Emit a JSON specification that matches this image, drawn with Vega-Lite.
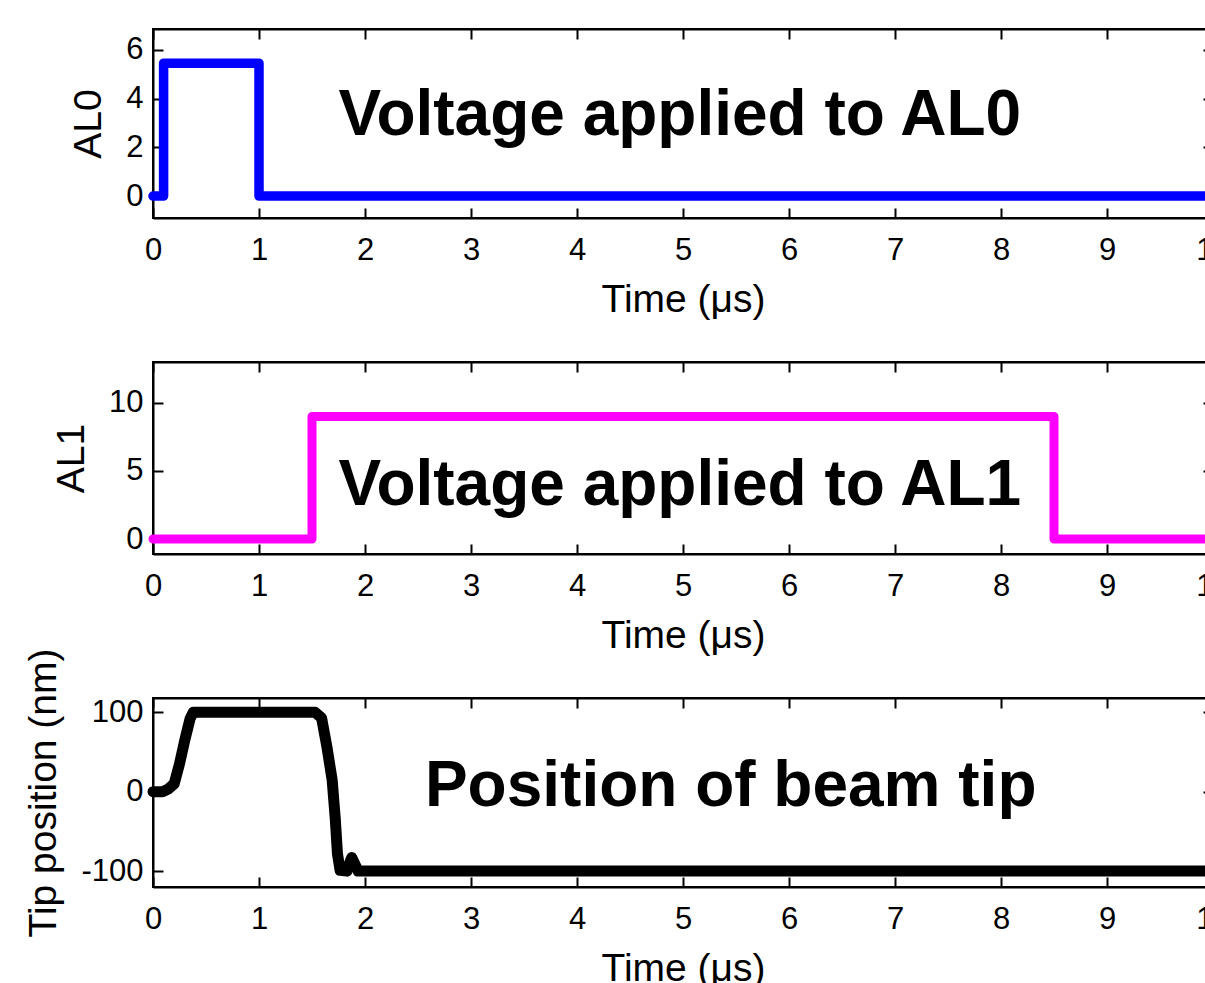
{
  "$schema": "https://vega.github.io/schema/vega-lite/v6.json",
  "padding": {"left": 23, "top": 27, "right": 0, "bottom": 0},
  "spacing": 144,
  "bounds": "flush",
  "config": {
    "font": "Liberation Sans",
    "view": {"stroke": "#000000", "strokeWidth": 2},
    "axis": {
      "grid": false,
      "domainColor": "#000000",
      "domainWidth": 2,
      "tickColor": "#000000",
      "tickWidth": 2,
      "tickSize": -10,
      "labelFontSize": 31,
      "labelColor": "#000000",
      "labelFlush": false,
      "labelOverlap": false,
      "labelExpr": "datum.value < 0 ? '-' + abs(datum.value) : '' + datum.value",
      "titleFontSize": 39,
      "titleFontWeight": "normal",
      "titleColor": "#000000"
    },
    "axisX": {"labelPadding": 27, "titlePadding": 15},
    "axisY": {"labelPadding": 20, "titlePadding": 17}
  },
  "datasets": {
    "al0": [
      {"t": 0, "v": 0}, {"t": 0.1, "v": 0}, {"t": 0.1, "v": 5.45},
      {"t": 1.0, "v": 5.45}, {"t": 1.0, "v": 0}, {"t": 10, "v": 0}
    ],
    "al1": [
      {"t": 0, "v": 0}, {"t": 1.5, "v": 0}, {"t": 1.5, "v": 9.0},
      {"t": 8.5, "v": 9.0}, {"t": 8.5, "v": 0}, {"t": 10, "v": 0}
    ],
    "tip": [
      {"t": 0, "v": 0}, {"t": 0.09, "v": 0}, {"t": 0.14, "v": 3},
      {"t": 0.2, "v": 10}, {"t": 0.25, "v": 35}, {"t": 0.3, "v": 65},
      {"t": 0.35, "v": 92}, {"t": 0.38, "v": 100}, {"t": 1.53, "v": 100},
      {"t": 1.59, "v": 93}, {"t": 1.64, "v": 57}, {"t": 1.69, "v": 15},
      {"t": 1.72, "v": -35}, {"t": 1.74, "v": -78}, {"t": 1.765, "v": -99},
      {"t": 1.83, "v": -100}, {"t": 1.86, "v": -88}, {"t": 1.875, "v": -83},
      {"t": 1.9, "v": -90}, {"t": 1.935, "v": -100}, {"t": 10, "v": -100}
    ],
    "lab0": [{"label": "Voltage applied to AL0"}],
    "lab1": [{"label": "Voltage applied to AL1"}],
    "lab2": [{"label": "Position of beam tip"}]
  },
  "vconcat": [
    {
      "width": 1060,
      "height": 189,
      "layer": [
        {
          "data": {"name": "al0"},
          "mark": {"type": "line", "color": "#0000ff", "strokeWidth": 9.5, "strokeJoin": "round", "strokeCap": "round"},
          "encoding": {
            "x": {"field": "t", "type": "quantitative", "scale": {"domain": [0, 10], "nice": false}, "axis": {"values": [0,1,2,3,4,5,6,7,8,9,10], "title": "Time (μs)"}},
            "y": {"field": "v", "type": "quantitative", "scale": {"domain": [-0.9, 6.85], "nice": false, "zero": false}, "axis": {"values": [0, 2, 4, 6], "title": "AL0"}}
          }
        },
        {
          "data": {"name": "al0"},
          "mark": {"type": "line", "opacity": 0},
          "encoding": {
            "x": {"field": "t", "type": "quantitative", "axis": {"orient": "top", "values": [0,1,2,3,4,5,6,7,8,9,10], "labels": false, "title": null}},
            "y": {"field": "v", "type": "quantitative", "axis": {"orient": "right", "values": [0, 2, 4, 6], "labels": false, "title": null}}
          }
        },
        {
          "data": {"name": "lab0"},
          "mark": {"type": "text", "fontSize": 64, "fontWeight": "bold", "color": "#000000", "align": "center", "baseline": "middle"},
          "encoding": {
            "x": {"datum": 4.97, "type": "quantitative", "axis": null},
            "y": {"datum": 3.3, "type": "quantitative", "axis": null},
            "text": {"field": "label"}
          }
        }
      ],
      "resolve": {"axis": {"x": "independent", "y": "independent"}}
    },
    {
      "width": 1060,
      "height": 192,
      "layer": [
        {
          "data": {"name": "al1"},
          "mark": {"type": "line", "color": "#ff00ff", "strokeWidth": 9, "strokeJoin": "round", "strokeCap": "round"},
          "encoding": {
            "x": {"field": "t", "type": "quantitative", "scale": {"domain": [0, 10], "nice": false}, "axis": {"values": [0,1,2,3,4,5,6,7,8,9,10], "title": "Time (μs)"}},
            "y": {"field": "v", "type": "quantitative", "scale": {"domain": [-1.1, 13.0], "nice": false, "zero": false}, "axis": {"values": [0, 5, 10], "title": "AL1"}}
          }
        },
        {
          "data": {"name": "al1"},
          "mark": {"type": "line", "opacity": 0},
          "encoding": {
            "x": {"field": "t", "type": "quantitative", "axis": {"orient": "top", "values": [0,1,2,3,4,5,6,7,8,9,10], "labels": false, "title": null}},
            "y": {"field": "v", "type": "quantitative", "axis": {"orient": "right", "values": [0, 5, 10], "labels": false, "title": null}}
          }
        },
        {
          "data": {"name": "lab1"},
          "mark": {"type": "text", "fontSize": 64, "fontWeight": "bold", "color": "#000000", "align": "center", "baseline": "middle"},
          "encoding": {
            "x": {"datum": 4.97, "type": "quantitative", "axis": null},
            "y": {"datum": 3.9, "type": "quantitative", "axis": null},
            "text": {"field": "label"}
          }
        }
      ],
      "resolve": {"axis": {"x": "independent", "y": "independent"}}
    },
    {
      "width": 1060,
      "height": 189,
      "layer": [
        {
          "data": {"name": "tip"},
          "mark": {"type": "line", "color": "#000000", "strokeWidth": 11, "strokeJoin": "round", "strokeCap": "round"},
          "encoding": {
            "x": {"field": "t", "type": "quantitative", "scale": {"domain": [0, 10], "nice": false}, "axis": {"values": [0,1,2,3,4,5,6,7,8,9,10], "title": "Time (μs)"}},
            "y": {"field": "v", "type": "quantitative", "scale": {"domain": [-120, 118], "nice": false, "zero": false}, "axis": {"values": [-100, 0, 100], "title": "Tip position (nm)"}}
          }
        },
        {
          "data": {"name": "tip"},
          "mark": {"type": "line", "opacity": 0},
          "encoding": {
            "x": {"field": "t", "type": "quantitative", "axis": {"orient": "top", "values": [0,1,2,3,4,5,6,7,8,9,10], "labels": false, "title": null}},
            "y": {"field": "v", "type": "quantitative", "axis": {"orient": "right", "values": [-100, 0, 100], "labels": false, "title": null}}
          }
        },
        {
          "data": {"name": "lab2"},
          "mark": {"type": "text", "fontSize": 64, "fontWeight": "bold", "color": "#000000", "align": "center", "baseline": "middle"},
          "encoding": {
            "x": {"datum": 5.45, "type": "quantitative", "axis": null},
            "y": {"datum": 6, "type": "quantitative", "axis": null},
            "text": {"field": "label"}
          }
        }
      ],
      "resolve": {"axis": {"x": "independent", "y": "independent"}}
    }
  ]
}
